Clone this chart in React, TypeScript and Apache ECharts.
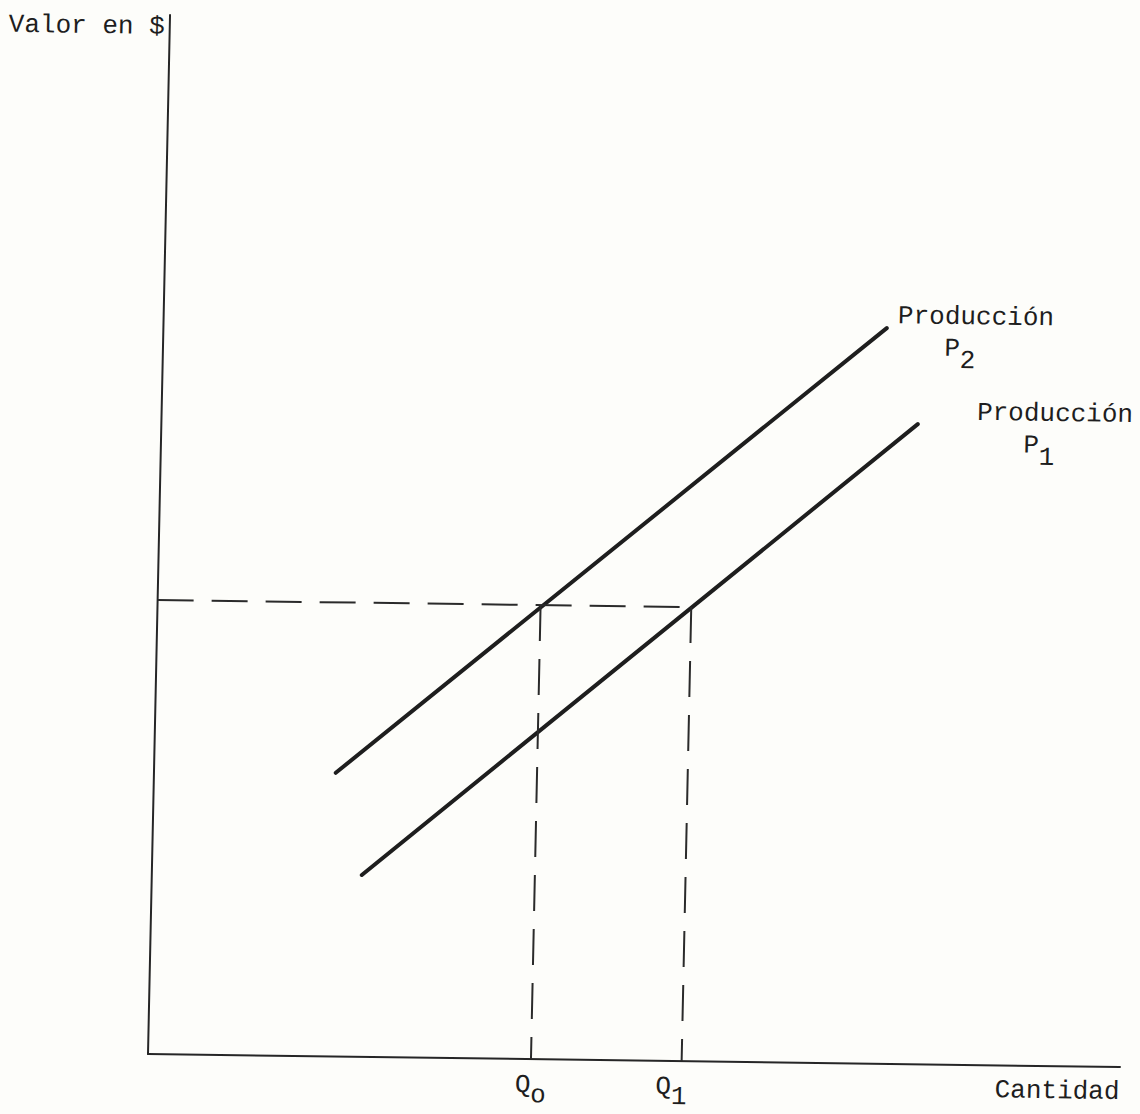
import React, { useEffect, useRef } from 'react';
import * as echarts from 'echarts';

// Curves (quantity, value)
const P2_LINE: number[][] = [[1.87, 2.73], [7.44, 7.08]];
const P1_LINE: number[][] = [[2.16, 1.75], [7.78, 6.16]];
const Q_VALUES = [3.94, 5.49];
const Q_SUBS = ['o', '1'];
const PRICE_LEVEL = 4.37;
const CURVE_LABELS = ['Producción', 'Producción'];
const CURVE_SUBS = ['2', '1'];
const X_NAME = 'Cantidad';
const Y_NAME = 'Valor en $';
const AXIS_MIN = 0;
const AXIS_MAX = 10;

const FONT = "'Liberation Mono', 'DejaVu Sans Mono', monospace";
const INK = '#1e1e1e';

function curveRich() {
  return {
    t: { fontSize: 26, lineHeight: 30, padding: [0, 0, 8, 0], color: INK, fontFamily: FONT },
    p: { fontSize: 26, lineHeight: 36, padding: [0, 0, 0, 47], verticalAlign: 'top', color: INK, fontFamily: FONT },
    s: { fontSize: 26, lineHeight: 36, padding: [12, 0, 0, 0], verticalAlign: 'top', color: INK, fontFamily: FONT },
  };
}

function buildOption() {
  const [q0, q1] = Q_VALUES;
  const dash = [36, 18];
  return {
    animation: false,
    backgroundColor: 'transparent',
    textStyle: { fontFamily: FONT, color: INK },
    grid: { left: 168, top: 15, width: 972, height: 1039, containLabel: false, outerBoundsMode: 'none' },
    xAxis: {
      type: 'value',
      min: AXIS_MIN,
      max: AXIS_MAX,
      name: X_NAME,
      nameLocation: 'end',
      nameGap: 0,
      nameTextStyle: { fontSize: 26, color: INK, fontFamily: FONT, align: 'right', verticalAlign: 'top', lineHeight: 50 },
      axisLine: { show: true, lineStyle: { color: '#262626', width: 2 } },
      axisTick: { show: false },
      splitLine: { show: false },
      axisLabel: {
        show: true,
        customValues: Q_VALUES,
        margin: 13,
        formatter: (v: number) => {
          const i = Q_VALUES.findIndex((q) => Math.abs(q - v) < 1e-9);
          if (i < 0) return '';
          return i === 0 ? `{q|Q}{s|${Q_SUBS[0]}}` : `{q|Q}{t|${Q_SUBS[1]}}`;
        },
        rich: {
          q: { fontSize: 26, lineHeight: 28, verticalAlign: 'top', color: INK, fontFamily: FONT },
          s: { fontSize: 26, lineHeight: 28, padding: [10, 0, 0, 0], verticalAlign: 'top', color: INK, fontFamily: FONT },
          t: { fontSize: 26, lineHeight: 28, padding: [10, 20, 0, 0], verticalAlign: 'top', color: INK, fontFamily: FONT },
        },
      },
    },
    yAxis: {
      type: 'value',
      min: AXIS_MIN,
      max: AXIS_MAX,
      name: Y_NAME,
      nameLocation: 'end',
      nameGap: -12,
      nameTextStyle: { fontSize: 26, color: INK, fontFamily: FONT, align: 'right', verticalAlign: 'middle', padding: [0, 5, 0, 0] },
      axisLine: { show: true, lineStyle: { color: '#262626', width: 2 } },
      axisTick: { show: false },
      splitLine: { show: false },
      axisLabel: { show: false },
    },
    series: [
      {
        name: 'P2',
        type: 'line',
        data: P2_LINE,
        symbol: 'none',
        silent: true,
        lineStyle: { color: INK, width: 4, cap: 'round' },
        endLabel: {
          show: true,
          distance: 0,
          offset: [11, 10],
          align: 'left',
          verticalAlign: 'middle',
          formatter: () => `{t|${CURVE_LABELS[0]}}\n{p|P}{s|${CURVE_SUBS[0]}}`,
          rich: curveRich(),
        },
      },
      {
        name: 'P1',
        type: 'line',
        data: P1_LINE,
        symbol: 'none',
        silent: true,
        lineStyle: { color: INK, width: 4, cap: 'round' },
        endLabel: {
          show: true,
          distance: 0,
          offset: [59, 10],
          align: 'left',
          verticalAlign: 'middle',
          formatter: () => `{t|${CURVE_LABELS[1]}}\n{p|P}{s|${CURVE_SUBS[1]}}`,
          rich: curveRich(),
        },
      },
      {
        name: 'nivel',
        type: 'line',
        data: [[AXIS_MIN, PRICE_LEVEL], [q1, PRICE_LEVEL]],
        symbol: 'none',
        silent: true,
        lineStyle: { color: '#2a2a2a', width: 2, type: dash },
      },
      {
        name: 'Q0',
        type: 'line',
        data: [[q0, PRICE_LEVEL], [q0, AXIS_MIN]],
        symbol: 'none',
        silent: true,
        lineStyle: { color: '#2a2a2a', width: 2, type: dash },
      },
      {
        name: 'Q1',
        type: 'line',
        data: [[q1, PRICE_LEVEL], [q1, AXIS_MIN]],
        symbol: 'none',
        silent: true,
        lineStyle: { color: '#2a2a2a', width: 2, type: dash },
      },
    ],
  };
}

export default function App() {
  const ref = useRef<HTMLDivElement>(null);
  useEffect(() => {
    if (!ref.current) return;
    const chart = echarts.init(ref.current, null, { renderer: 'svg' });
    chart.setOption(buildOption() as any);
    return () => chart.dispose();
  }, []);
  return (
    <div style={{ position: 'fixed', left: 0, top: 0, width: 1140, height: 1114, overflow: 'hidden', background: '#fdfdfa' }}>
      <div
        ref={ref}
        style={{
          position: 'absolute',
          left: -20,
          top: 0,
          width: 1160,
          height: 1114,
          transformOrigin: '168px 1054px',
          transform: 'matrix(1, 0.0134, -0.0212, 1, 0, 0)',
        }}
      />
    </div>
  );
}
